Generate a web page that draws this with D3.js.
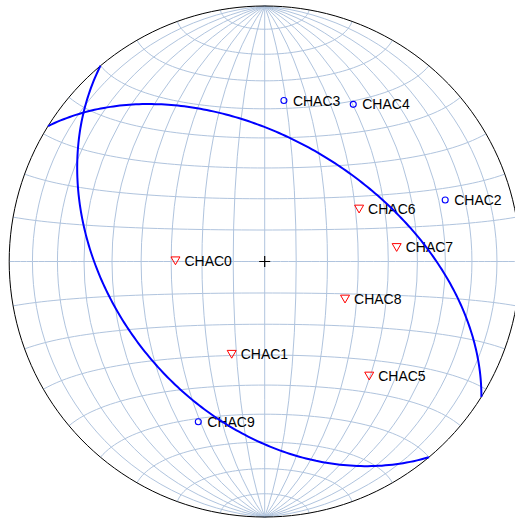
<!DOCTYPE html>
<html>
<head>
<meta charset="utf-8">
<script src="https://cdn.jsdelivr.net/npm/d3@7"></script>
<style>
  html, body { margin: 0; padding: 0; background: #fff; overflow: hidden; }
  svg { display: block; }
</style>
</head>
<body>
<svg id="net" width="515" height="518"></svg>
<script>
// Lower-hemisphere equal-area (Schmidt) net of lineations and planes.

// Lineations: trend / plunge in degrees
const lineNames   = ["CHAC0", "CHAC1", "CHAC2", "CHAC3", "CHAC4", "CHAC5", "CHAC6", "CHAC7", "CHAC8", "CHAC9"];
const lineTrends  = [270.5, 199.6, 71.2, 6.8, 29.4, 137.6, 60.9, 83.9, 115.0, 202.5];
const linePlunges = [61.4, 58.4, 26.3, 36.7, 30.1, 39.2, 55.2, 46.9, 61.6, 32.6];
const lineSymbols = ["triangle", "triangle", "circle", "circle", "circle", "triangle", "triangle", "triangle", "triangle", "circle"];

// Planes: dip direction / dip in degrees
const planeDipDirs = [230, 32];
const planeDips    = [41, 51];

const width = 515, height = 518;
const cx = 264.7, cy = 261.5, R = 255.5;

const svg = d3.select("#net");

const projection = d3.geoAzimuthalEqualArea()
  .scale(R / Math.SQRT2)
  .translate([cx, cy])
  .rotate([0, 0])
  .clipAngle(90)
  .precision(0.2);

const path = d3.geoPath(projection);

const rad = Math.PI / 180, deg = 180 / Math.PI;

// trend/plunge (lower hemisphere) -> lon/lat on the net sphere
function toLonLat(trend, plunge) {
  const t = trend * rad, p = plunge * rad;
  const X = Math.sin(p);               // down = centre of net
  const Y = Math.sin(t) * Math.cos(p); // east
  const Z = Math.cos(t) * Math.cos(p); // north
  return [Math.atan2(Y, X) * deg, Math.asin(Math.max(-1, Math.min(1, Z))) * deg];
}

// Graticule: great circles through N/S and small circles about N-S axis, every 10°
const graticule = d3.geoGraticule()
  .extent([[-180, -90], [180, 90.0001]])
  .step([10, 10]);

svg.append("g")
  .selectAll("path")
  .data(graticule.lines())
  .join("path")
  .attr("d", path)
  .attr("fill", "none")
  .attr("stroke", "#b0c4de")
  .attr("stroke-width", 1);

// Primitive circle
svg.append("path")
  .datum({ type: "Sphere" })
  .attr("d", path)
  .attr("fill", "none")
  .attr("stroke", "#000")
  .attr("stroke-width", 1);

// Lineation data
const lineData = lineNames.map((name, i) => ({
  name,
  symbol: lineSymbols[i],
  pos: projection(toLonLat(lineTrends[i], linePlunges[i]))
}));

const marks = svg.append("g");

const tri = d3.line()([[-4.5, -3.8], [4.5, -3.8], [0, 4]]) + "Z";

marks.selectAll("path.tri")
  .data(lineData.filter(d => d.symbol === "triangle"))
  .join("path")
  .attr("class", "tri")
  .attr("d", tri)
  .attr("transform", d => `translate(${d.pos[0]},${d.pos[1]})`)
  .attr("fill", "none")
  .attr("stroke", "#ff0000")
  .attr("stroke-width", 1);

marks.selectAll("circle.pt")
  .data(lineData.filter(d => d.symbol === "circle"))
  .join("circle")
  .attr("class", "pt")
  .attr("cx", d => d.pos[0])
  .attr("cy", d => d.pos[1])
  .attr("r", 3)
  .attr("fill", "none")
  .attr("stroke", "#0000ff")
  .attr("stroke-width", 1.1);

marks.selectAll("text")
  .data(lineData)
  .join("text")
  .attr("x", d => d.pos[0] + 9)
  .attr("y", d => d.pos[1] + 5)
  .attr("font-family", "'Liberation Sans', Arial, Helvetica, sans-serif")
  .attr("font-size", 14)
  .attr("fill", "#000")
  .text(d => d.name);

// Planes as great circles: the 90° circle about each pole
const planeLines = planeDipDirs.map((dd, i) => {
  const pole = toLonLat((dd + 180) % 360, 90 - planeDips[i]);
  const ring = d3.geoCircle().center(pole).radius(90).precision(1)().coordinates[0];
  return { type: "LineString", coordinates: ring };
});

svg.append("g")
  .selectAll("path")
  .data(planeLines)
  .join("path")
  .attr("d", path)
  .attr("fill", "none")
  .attr("stroke", "#0000ff")
  .attr("stroke-width", 2);

// Centre cross
svg.append("path")
  .attr("d", `M${cx - 5.5},${cy}H${cx + 5.5}M${cx},${cy - 5.5}V${cy + 5.5}`)
  .attr("stroke", "#000")
  .attr("stroke-width", 1.2)
  .attr("fill", "none");
</script>
</body>
</html>
